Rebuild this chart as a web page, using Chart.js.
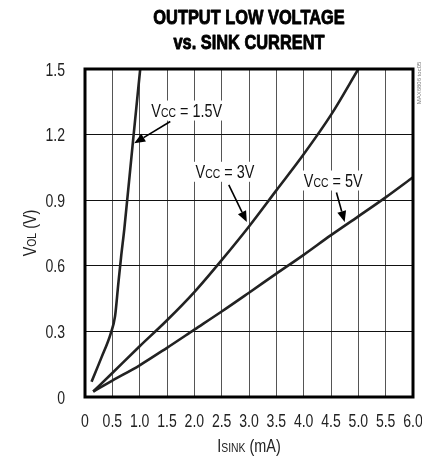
<!DOCTYPE html>
<html>
<head>
<meta charset="utf-8">
<script src="https://cdn.jsdelivr.net/npm/chart.js@4.4.0/dist/chart.umd.min.js"></script>
<style>
  html, body { margin: 0; padding: 0; background: #fff; }
</style>
</head>
<body>
<canvas id="volChart" width="422" height="462"></canvas>
<script>
// data
const iSink15 = [0.12, 0.30, 0.47, 0.55, 0.61, 0.66, 0.72, 0.87, 1.01];
const vol15   = [0.07, 0.18, 0.29, 0.37, 0.52, 0.64, 0.77, 1.15, 1.50];

const iSink3 = [0.15, 0.5, 1.0, 1.5, 2.0, 2.5, 3.0, 3.5, 4.0, 4.5, 5.0];
const vol3   = [0.025, 0.11, 0.232, 0.351, 0.48, 0.626, 0.78, 0.945, 1.11, 1.29, 1.50];

const iSink5 = [0.15, 0.5, 1.0, 1.5, 2.0, 2.5, 3.0, 3.5, 4.0, 4.5, 5.0, 5.5, 6.0];
const vol5   = [0.025, 0.075, 0.145, 0.225, 0.308, 0.391, 0.477, 0.564, 0.65, 0.74, 0.826, 0.913, 1.005];

const xTickLabels = ['0', '0.5', '1.0', '1.5', '2.0', '2.5', '3.0', '3.5', '4.0', '4.5', '5.0', '5.5', '6.0'];
const yTickLabels = ['0', '0.3', '0.6', '0.9', '1.2', '1.5'];

const titleLines = ['OUTPUT LOW VOLTAGE', 'vs. SINK CURRENT'];

// curve labels: [main, subscript, rest], label centre and arrow ends (data units)
const curveLabels = [
  { parts: ['V', 'CC', ' = 1.5V'], at: [1.86, 1.31], from: [1.56, 1.26], to: [0.90, 1.16] },
  { parts: ['V', 'CC', ' = 3V'],   at: [2.56, 1.03], from: [2.63, 0.97], to: [2.96, 0.80] },
  { parts: ['V', 'CC', ' = 5V'],   at: [4.54, 0.99], from: [4.60, 0.935], to: [4.75, 0.80] }
];

const FONT = "'Liberation Sans', Arial, sans-serif";
const SQUEEZE = 0.8; // fake a condensed face

// text squeezed horizontally; align 'left' | 'center' | 'right'
function condText(ctx, text, x, y, font, align, squeeze, heavy) {
  const k = squeeze || SQUEEZE;
  ctx.save();
  ctx.font = font;
  const w = ctx.measureText(text).width * k;
  let x0 = x;
  if (align === 'center') x0 = x - w / 2;
  if (align === 'right') x0 = x - w;
  ctx.translate(x0, y);
  ctx.scale(k, 1);
  ctx.textAlign = 'left';
  ctx.textBaseline = 'alphabetic';
  ctx.fillText(text, 0, 0);
  if (heavy) {
    ctx.strokeStyle = ctx.fillStyle;
    ctx.lineWidth = heavy;
    ctx.lineJoin = 'round';
    ctx.strokeText(text, 0, 0);
  }
  ctx.restore();
  return w;
}

// normal + smaller subscript-ish parts, centred on cx, baseline at base
function subText(ctx, parts, cx, base, big, small) {
  const fonts = [big + 'px ' + FONT, small + 'px ' + FONT, big + 'px ' + FONT];
  const widths = parts.map((p, i) => { ctx.font = fonts[i]; return ctx.measureText(p).width * SQUEEZE; });
  const w = widths.reduce((s, v) => s + v, 0);
  let x = cx - w / 2;
  parts.forEach((p, i) => {
    condText(ctx, p, x, base, fonts[i], 'left');
    x += widths[i];
  });
  return w;
}

const decorPlugin = {
  id: 'decor',
  beforeDraw(chart) {
    const ctx = chart.ctx;
    ctx.save();
    ctx.fillStyle = '#fff';
    ctx.fillRect(0, 0, chart.width, chart.height);
    ctx.restore();
  },
  afterDatasetsDraw(chart) {
    const { ctx, chartArea: a, scales: { x, y } } = chart;
    ctx.save();

    // heavy frame
    ctx.strokeStyle = '#000';
    ctx.lineWidth = 3;
    ctx.strokeRect(a.left, a.top, a.right - a.left, a.bottom - a.top);

    // curve labels and arrows
    curveLabels.forEach(lb => {
      const fx = x.getPixelForValue(lb.from[0]), fy = y.getPixelForValue(lb.from[1]);
      const tx = x.getPixelForValue(lb.to[0]), ty = y.getPixelForValue(lb.to[1]);
      const ang = Math.atan2(ty - fy, tx - fx);
      const head = 11, half = 4.5;
      ctx.strokeStyle = '#000';
      ctx.fillStyle = '#000';
      ctx.lineWidth = 1.6;
      ctx.beginPath();
      ctx.moveTo(fx, fy);
      ctx.lineTo(tx - Math.cos(ang) * head, ty - Math.sin(ang) * head);
      ctx.stroke();
      ctx.beginPath();
      ctx.moveTo(tx, ty);
      ctx.lineTo(tx - Math.cos(ang) * head - Math.sin(ang) * half, ty - Math.sin(ang) * head + Math.cos(ang) * half);
      ctx.lineTo(tx - Math.cos(ang) * head + Math.sin(ang) * half, ty - Math.sin(ang) * head - Math.cos(ang) * half);
      ctx.closePath();
      ctx.fill();

      const cx = x.getPixelForValue(lb.at[0]), cy = y.getPixelForValue(lb.at[1]);
      let w = 0;
      [18, 13, 18].forEach((s, i) => { ctx.font = s + 'px ' + FONT; w += ctx.measureText(lb.parts[i]).width * SQUEEZE; });
      ctx.fillStyle = '#fff';
      ctx.fillRect(cx - w / 2 - 3, cy - 10, w + 6, 20);
      ctx.fillStyle = '#111';
      subText(ctx, lb.parts, cx, cy + 6.5, 18, 13);
    });
    ctx.restore();
  },
  afterDraw(chart) {
    const { ctx, chartArea: a, scales: { x, y } } = chart;
    ctx.save();
    const mid = (a.left + a.right) / 2;

    // title
    ctx.fillStyle = '#000';
    condText(ctx, titleLines[0], mid, 23.5, 'bold 21px ' + FONT, 'center', 0.78, 0.9);
    condText(ctx, titleLines[1], mid, 48.5, 'bold 21px ' + FONT, 'center', 0.78, 0.9);

    // tick labels at the scale's own tick positions
    ctx.fillStyle = '#222';
    x.ticks.forEach((t, i) => {
      condText(ctx, xTickLabels[i], x.getPixelForValue(t.value), a.bottom + 30, '18px ' + FONT, 'center', 0.78);
    });
    y.ticks.forEach((t, i) => {
      condText(ctx, yTickLabels[i], a.left - 20, y.getPixelForValue(t.value) + 6.5, '18px ' + FONT, 'right', 0.78);
    });

    // axis titles
    subText(ctx, ['I', 'SINK', ' (mA)'], mid, 452, 18, 13);
    ctx.save();
    ctx.translate(36, (a.top + a.bottom) / 2);
    ctx.rotate(-Math.PI / 2);
    subText(ctx, ['V', 'OL', ' (V)'], 0, 0, 18, 13);
    ctx.restore();

    // small figure id on the right edge
    ctx.save();
    ctx.translate(419, 83);
    ctx.rotate(-Math.PI / 2);
    ctx.fillStyle = '#777';
    ctx.font = '6px ' + FONT;
    ctx.textAlign = 'center';
    ctx.textBaseline = 'middle';
    ctx.fillText('MAX6806 toc05', 0, 0);
    ctx.restore();
    ctx.restore();
  }
};

const curveStyle = {
  showLine: true,
  borderColor: '#222',
  borderWidth: 2.6,
  pointRadius: 0,
  fill: false,
  cubicInterpolationMode: 'monotone'
};

const ctx = document.getElementById('volChart').getContext('2d');
const volChart = new Chart(ctx, {
  type: 'scatter',
  data: {
    datasets: [
      Object.assign({ label: 'VCC = 1.5V', data: toPoints(iSink15, vol15) }, curveStyle),
      Object.assign({ label: 'VCC = 3V', data: toPoints(iSink3, vol3) }, curveStyle),
      Object.assign({ label: 'VCC = 5V', data: toPoints(iSink5, vol5) }, curveStyle)
    ]
  },
  options: {
    responsive: false,
    animation: false,
    devicePixelRatio: 1,
    layout: { padding: { top: 69, right: 9, left: 0, bottom: 0 } },
    plugins: {
      legend: { display: false },
      tooltip: { enabled: false },
      title: { display: false }
    },
    scales: {
      x: {
        type: 'linear',
        min: 0,
        max: 6,
        afterFit(scale) { scale.height = 65; scale.paddingLeft = 0; scale.paddingRight = 0; },
        afterBuildTicks(scale) {
          scale.ticks = xTickLabels.map(t => ({ value: parseFloat(t) }));
        },
        ticks: { display: false },
        grid: { color: '#555', lineWidth: 1, drawTicks: false },
        border: { display: false }
      },
      y: {
        type: 'linear',
        min: 0,
        max: 1.5,
        afterFit(scale) { scale.width = 85; scale.paddingTop = 0; scale.paddingBottom = 0; },
        afterBuildTicks(scale) {
          scale.ticks = yTickLabels.map(t => ({ value: parseFloat(t) }));
        },
        ticks: { display: false },
        grid: { color: '#111', lineWidth: 1, drawTicks: false },
        border: { display: false }
      }
    }
  },
  plugins: [decorPlugin]
});

function toPoints(xs, ys) {
  return xs.map((v, i) => ({ x: v, y: ys[i] }));
}
</script>
</body>
</html>
